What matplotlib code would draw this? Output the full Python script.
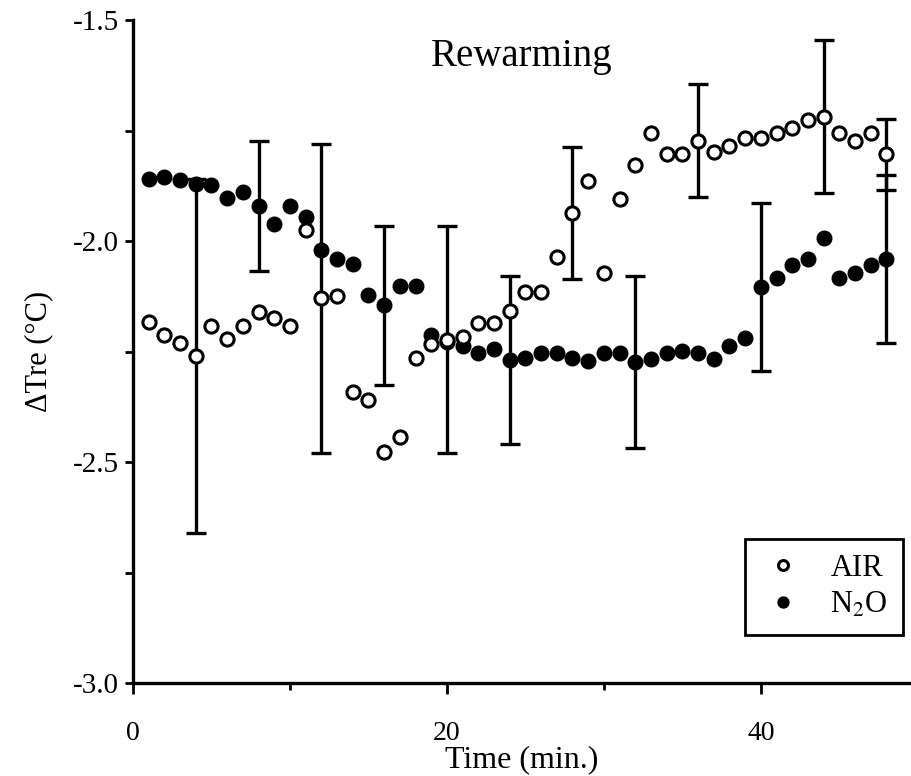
import numpy as np
import matplotlib.pyplot as plt

plt.rcParams['font.family'] = ['Liberation Serif', 'DejaVu Serif']
plt.rcParams['mathtext.fontset'] = 'stix'

# time in minutes
time = np.arange(1, 49)

air = [-2.184, -2.213, -2.230, -2.260, -2.192, -2.222, -2.192, -2.160, -2.175, -2.192,
       -1.974, -2.130, -2.124, -2.341, -2.360, -2.477, -2.444, -2.264, -2.234, -2.223,
       -2.217, -2.186, -2.186, -2.158, -2.115, -2.115, -2.037, -1.937, -1.864, -2.073,
       -1.906, -1.828, -1.756, -1.804, -1.804, -1.773, -1.798, -1.785, -1.767, -1.767,
       -1.755, -1.744, -1.726, -1.719, -1.755, -1.773, -1.756, -1.804]

n2o = [-1.860, -1.856, -1.862, -1.871, -1.873, -1.903, -1.890, -1.921, -1.962, -1.921,
       -1.945, -2.020, -2.041, -2.053, -2.122, -2.145, -2.101, -2.101, -2.213, -2.228,
       -2.238, -2.253, -2.245, -2.269, -2.265, -2.254, -2.254, -2.265, -2.271, -2.254,
       -2.254, -2.273, -2.268, -2.254, -2.248, -2.254, -2.268, -2.237, -2.219, -2.103,
       -2.084, -2.054, -2.041, -1.994, -2.084, -2.072, -2.054, -2.041]

# error bars (SEM) shown only at some time points
air_err_t = [4, 12, 20, 28, 36, 44, 48]
air_err = [0.40, 0.35, 0.257, 0.149, 0.128, 0.173, 0.08]
n2o_err_t = [8, 16, 24, 32, 40, 48]
n2o_err = [0.147, 0.18, 0.19, 0.195, 0.19, 0.19]


def centres(values, ts):
    return [values[list(time).index(t)] for t in ts]


fig = plt.figure(figsize=(9.12, 7.76), dpi=100)
ax = fig.add_axes([0.1458, 0.1198, 0.852, 0.8544])

ax.errorbar(n2o_err_t, centres(n2o, n2o_err_t), yerr=n2o_err, fmt='none',
            ecolor='black', elinewidth=2.4, capsize=7, capthick=2.4, zorder=2)
ax.errorbar(air_err_t, centres(air, air_err_t), yerr=air_err, fmt='none',
            ecolor='black', elinewidth=2.4, capsize=7, capthick=2.4, zorder=2)

ax.plot(time, n2o, 'o', ms=10.5, color='black', mec='black', zorder=3, label='N$_2$O')
ax.plot(time, air, 'o', ms=9.5, mfc='white', mec='black', mew=2.2, zorder=4, label='AIR')

ax.set_xlim(0, 49.5)
ax.set_ylim(-3.0, -1.5)
ax.set_xticks([0, 20, 40])
ax.set_xticks([10, 30], minor=True)
ax.set_yticks([-3.0, -2.5, -2.0, -1.5])
ax.set_yticks([-2.75, -2.25, -1.75], minor=True)
ax.set_yticklabels(['-3.0', '-2.5', '-2.0', '-1.5'])

for s in ['top', 'right']:
    ax.spines[s].set_visible(False)
for s in ['left', 'bottom']:
    ax.spines[s].set_linewidth(2.4)

ax.tick_params(axis='x', which='major', length=8, width=2, labelsize=20, pad=19)
ax.tick_params(axis='x', which='minor', length=5, width=2)
ax.tick_params(axis='y', which='both', length=6, width=2, labelsize=21, pad=4)

ax.set_xlabel('Time (min.)', fontsize=23, labelpad=0)
ax.set_ylabel('ΔTre (°C)', fontsize=22, labelpad=14)
ax.text(0.5, 0.945, 'Rewarming', transform=ax.transAxes, ha='center', va='center',
        fontsize=28)

handles, labels = ax.get_legend_handles_labels()
leg = ax.legend(handles[::-1], labels[::-1], loc='lower right',
                bbox_to_anchor=(0.991, 0.0724), borderaxespad=0, fancybox=False,
                edgecolor='black', framealpha=1, fontsize=22, markerscale=0.75,
                handletextpad=0.8, handlelength=1.5, borderpad=0.5, labelspacing=0.25)
leg.get_frame().set_linewidth(2)

fig.savefig('out.png', dpi=100)
